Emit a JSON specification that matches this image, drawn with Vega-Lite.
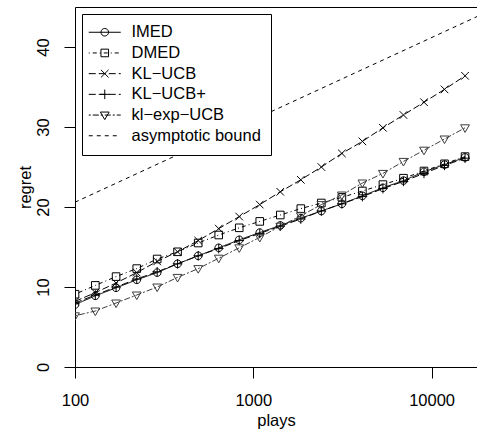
{
"$schema": "https://vega.github.io/schema/vega-lite/v6.json",
"width": 402, "height": 360,
"autosize": {"type": "none"},
"padding": {"left": 75, "top": 7, "right": 0, "bottom": 64},
"config": {
  "view": {"stroke": null},
  "font": "Liberation Sans",
  "axis": {"grid": false, "domainColor": "black", "tickColor": "black", "labelColor": "black", "titleColor": "black",
           "labelFontSize": 16.5, "titleFontSize": 16.5, "titleFontWeight": "normal", "labelFont": "Liberation Sans",
           "titleFont": "Liberation Sans", "tickSize": 11, "domainWidth": 1, "tickWidth": 1}
},
"data": {"values": [
{"series":"IMED","plays":100,"regret":7.8},{"series":"IMED","plays":130,"regret":8.9},{"series":"IMED","plays":170,"regret":9.9},{"series":"IMED","plays":222,"regret":10.9},{"series":"IMED","plays":289,"regret":11.8},{"series":"IMED","plays":376,"regret":12.9},{"series":"IMED","plays":491,"regret":13.9},{"series":"IMED","plays":640,"regret":14.9},{"series":"IMED","plays":834,"regret":15.9},{"series":"IMED","plays":1087,"regret":16.8},{"series":"IMED","plays":1417,"regret":17.7},{"series":"IMED","plays":1847,"regret":18.6},{"series":"IMED","plays":2408,"regret":19.5},{"series":"IMED","plays":3139,"regret":20.4},{"series":"IMED","plays":4092,"regret":21.4},{"series":"IMED","plays":5334,"regret":22.4},{"series":"IMED","plays":6954,"regret":23.3},{"series":"IMED","plays":9065,"regret":24.4},{"series":"IMED","plays":11817,"regret":25.3},{"series":"IMED","plays":15405,"regret":26.2},
{"series":"DMED","plays":100,"regret":9.1},{"series":"DMED","plays":130,"regret":10.2},{"series":"DMED","plays":170,"regret":11.3},{"series":"DMED","plays":222,"regret":12.3},{"series":"DMED","plays":289,"regret":13.5},{"series":"DMED","plays":376,"regret":14.4},{"series":"DMED","plays":491,"regret":15.5},{"series":"DMED","plays":640,"regret":16.5},{"series":"DMED","plays":834,"regret":17.4},{"series":"DMED","plays":1087,"regret":18.2},{"series":"DMED","plays":1417,"regret":19.0},{"series":"DMED","plays":1847,"regret":19.8},{"series":"DMED","plays":2408,"regret":20.5},{"series":"DMED","plays":3139,"regret":21.2},{"series":"DMED","plays":4092,"regret":22.0},{"series":"DMED","plays":5334,"regret":22.8},{"series":"DMED","plays":6954,"regret":23.6},{"series":"DMED","plays":9065,"regret":24.5},{"series":"DMED","plays":11817,"regret":25.4},{"series":"DMED","plays":15405,"regret":26.3},
{"series":"KL−UCB","plays":100,"regret":8.2},{"series":"KL−UCB","plays":130,"regret":9.3},{"series":"KL−UCB","plays":170,"regret":10.5},{"series":"KL−UCB","plays":222,"regret":11.8},{"series":"KL−UCB","plays":289,"regret":13.2},{"series":"KL−UCB","plays":376,"regret":14.4},{"series":"KL−UCB","plays":491,"regret":15.8},{"series":"KL−UCB","plays":640,"regret":17.3},{"series":"KL−UCB","plays":834,"regret":18.8},{"series":"KL−UCB","plays":1087,"regret":20.3},{"series":"KL−UCB","plays":1417,"regret":21.9},{"series":"KL−UCB","plays":1847,"regret":23.4},{"series":"KL−UCB","plays":2408,"regret":25.0},{"series":"KL−UCB","plays":3139,"regret":26.7},{"series":"KL−UCB","plays":4092,"regret":28.2},{"series":"KL−UCB","plays":5334,"regret":29.9},{"series":"KL−UCB","plays":6954,"regret":31.5},{"series":"KL−UCB","plays":9065,"regret":33.1},{"series":"KL−UCB","plays":11817,"regret":34.7},{"series":"KL−UCB","plays":15405,"regret":36.4},
{"series":"KL−UCB+","plays":100,"regret":8.0},{"series":"KL−UCB+","plays":130,"regret":9.0},{"series":"KL−UCB+","plays":170,"regret":10.0},{"series":"KL−UCB+","plays":222,"regret":11.0},{"series":"KL−UCB+","plays":289,"regret":11.9},{"series":"KL−UCB+","plays":376,"regret":12.9},{"series":"KL−UCB+","plays":491,"regret":13.9},{"series":"KL−UCB+","plays":640,"regret":14.8},{"series":"KL−UCB+","plays":834,"regret":15.8},{"series":"KL−UCB+","plays":1087,"regret":16.7},{"series":"KL−UCB+","plays":1417,"regret":17.6},{"series":"KL−UCB+","plays":1847,"regret":18.5},{"series":"KL−UCB+","plays":2408,"regret":19.5},{"series":"KL−UCB+","plays":3139,"regret":20.4},{"series":"KL−UCB+","plays":4092,"regret":21.3},{"series":"KL−UCB+","plays":5334,"regret":22.3},{"series":"KL−UCB+","plays":6954,"regret":23.2},{"series":"KL−UCB+","plays":9065,"regret":24.2},{"series":"KL−UCB+","plays":11817,"regret":25.2},{"series":"KL−UCB+","plays":15405,"regret":26.1},
{"series":"kl−exp−UCB","plays":100,"regret":6.4},{"series":"kl−exp−UCB","plays":130,"regret":7.0},{"series":"kl−exp−UCB","plays":170,"regret":8.0},{"series":"kl−exp−UCB","plays":222,"regret":9.0},{"series":"kl−exp−UCB","plays":289,"regret":10.0},{"series":"kl−exp−UCB","plays":376,"regret":11.2},{"series":"kl−exp−UCB","plays":491,"regret":12.3},{"series":"kl−exp−UCB","plays":640,"regret":13.6},{"series":"kl−exp−UCB","plays":834,"regret":14.9},{"series":"kl−exp−UCB","plays":1087,"regret":16.2},{"series":"kl−exp−UCB","plays":1417,"regret":17.6},{"series":"kl−exp−UCB","plays":1847,"regret":18.9},{"series":"kl−exp−UCB","plays":2408,"regret":20.3},{"series":"kl−exp−UCB","plays":3139,"regret":21.5},{"series":"kl−exp−UCB","plays":4092,"regret":23.0},{"series":"kl−exp−UCB","plays":5334,"regret":24.2},{"series":"kl−exp−UCB","plays":6954,"regret":25.7},{"series":"kl−exp−UCB","plays":9065,"regret":27.1},{"series":"kl−exp−UCB","plays":11817,"regret":28.5},{"series":"kl−exp−UCB","plays":15405,"regret":29.9},
{"series":"asymptotic bound","plays":100,"regret":20.6},{"series":"asymptotic bound","plays":17975,"regret":43.8}
]},
"layer": [
  {
    "mark": {"type": "line", "strokeWidth": 1, "clip": true},
    "encoding": {
      "x": {"field": "plays", "type": "quantitative",
            "scale": {"type": "log", "domain": [100, 17975], "nice": false},
            "axis": {"orient": "bottom", "values": [100, 1000, 10000], "format": "d", "title": "plays", "labelFlush": false,
                     "labelBaseline": "alphabetic", "labelPadding": 27, "labelAlign": "center", "labelOverlap": false,
                     "titleBaseline": "alphabetic", "titleY": 58}},
      "y": {"field": "regret", "type": "quantitative",
            "scale": {"domain": [0, 45], "nice": false, "zero": false},
            "axis": {"values": [0, 10, 20, 30, 40], "title": "regret", "labelFlush": false, "labelAngle": 270,
                     "labelAlign": "center", "labelBaseline": "alphabetic", "labelPadding": 16, "labelOverlap": false,
                     "titleAngle": 270, "titleBaseline": "alphabetic", "titleX": -45}},
      "strokeDash": {"field": "series", "type": "nominal",
            "scale": {"domain": ["IMED", "DMED", "KL−UCB", "KL−UCB+", "kl−exp−UCB", "asymptotic bound"],
                      "range": [[1, 0], [1, 3, 4, 3], [7, 3], [7, 3], [2, 2, 6, 2], [4, 4]]},
            "legend": null},
      "stroke": {"condition": {"test": "datum.series === 'kl−exp−UCB'", "value": "#3c3c3c"}, "value": "black"}
    }
  },
  {
    "transform": [{"filter": "datum.series !== 'asymptotic bound'"}],
    "mark": {"type": "point", "filled": false, "size": 64, "strokeWidth": 1, "opacity": 1, "clip": true},
    "encoding": {
      "x": {"field": "plays", "type": "quantitative", "axis": null},
      "y": {"field": "regret", "type": "quantitative"},
      "shape": {"field": "series", "type": "nominal",
            "scale": {"domain": ["IMED", "DMED", "KL−UCB", "KL−UCB+", "kl−exp−UCB"],
                      "range": ["M0.95,0A0.95,0.95 0 1,1 -0.95,0A0.95,0.95 0 1,1 0.95,0Z",
                                "M-0.95,-0.95H0.95V0.95H-0.95Z",
                                "M-0.95,-0.95L0.95,0.95M-0.95,0.95L0.95,-0.95",
                                "M-1.2,0H1.2M0,-1.2V1.2",
                                "M-1.1,-0.75H1.1L0,1.15Z"]},
            "legend": null},
      "stroke": {"condition": {"test": "datum.series === 'kl−exp−UCB'", "value": "#3c3c3c"}, "value": "black"}
    }
  },
  {
    "mark": {"type": "point", "filled": false, "size": 64, "strokeWidth": 1, "opacity": 0, "color": "black", "clip": true},
    "encoding": {
      "x": {"field": "plays", "type": "quantitative",
            "axis": {"orient": "top", "labels": false, "ticks": false, "title": null, "domain": true}},
      "y": {"field": "regret", "type": "quantitative"},
      "shape": {"field": "series", "type": "nominal",
            "scale": {"domain": ["IMED", "DMED", "KL−UCB", "KL−UCB+", "kl−exp−UCB", "asymptotic bound"],
                      "range": ["M-2.875,0H5.125M2.075,0A0.95,0.95 0 1,1 0.175,0A0.95,0.95 0 1,1 2.075,0Z",
                                "M-2.875,0H-2.625M-1.875,0H-0.875M-0.125,0H0.125M0.875,0H1.875M2.625,0H2.875M3.625,0H4.625M0.175,-0.95H2.075V0.95H0.175Z",
                                "M-2.875,0H-1.125M-0.375,0H1.375M2.125,0H3.875M4.625,0H5.125M0.175,-0.95L2.075,0.95M0.175,0.95L2.075,-0.95",
                                "M-2.875,0H-1.125M-0.375,0H1.375M2.125,0H3.875M4.625,0H5.125M-0.075,0H2.325M1.125,-1.2V1.2",
                                "M-2.875,0H-2.375M-1.875,0H-0.375M0.125,0H0.625M1.125,0H2.625M3.125,0H3.625M4.125,0H5.125M0.025,-0.75H2.225L1.125,1.15Z",
                                "M-2.875,0H-1.875M-0.875,0H0.125M1.125,0H2.125M3.125,0H4.125"]},
            "legend": {"orient": "none", "legendX": 7, "legendY": 7, "title": null, "padding": 10,
                       "strokeColor": "black", "fillColor": "white", "cornerRadius": 0,
                       "labelFont": "Liberation Sans", "labelFontSize": 16.5, "labelColor": "black",
                       "labelExpr": "datum.label + '\u00a0\u00a0'",
                       "symbolSize": 64, "symbolStrokeWidth": 1, "symbolStrokeColor": "black",
                       "symbolFillColor": "transparent", "symbolOpacity": 1,
                       "labelOffset": 23, "rowPadding": 3.7, "labelLimit": 300}}
    }
  }
],
"resolve": {"scale": {"shape": "independent"}, "axis": {"x": "independent"}}
}
